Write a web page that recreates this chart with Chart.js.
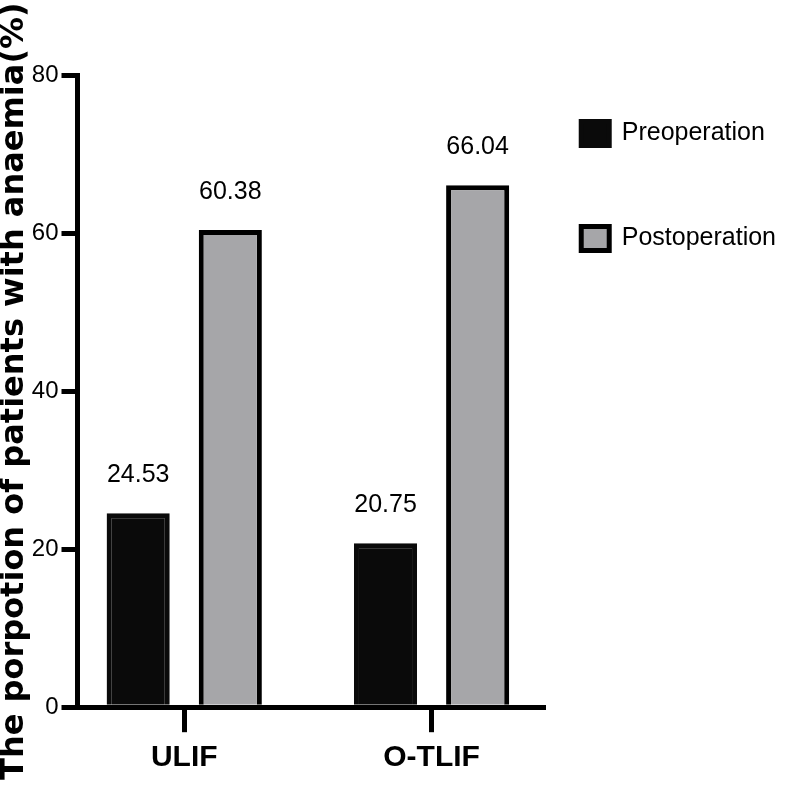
<!DOCTYPE html>
<html>
<head>
<meta charset="utf-8">
<script src="https://cdn.jsdelivr.net/npm/chart.js@4/dist/chart.umd.min.js"></script>
<style>
  html, body { margin: 0; padding: 0; background: #fff; }
  #wrap { width: 786px; height: 786px; }
</style>
</head>
<body>
<div id="wrap"><canvas id="c" width="786" height="786"></canvas></div>
<script>
const categories = ['ULIF', 'O-TLIF'];
const preoperation = [24.53, 20.75];
const postoperation = [60.38, 66.04];
const seriesNames = ['Preoperation', 'Postoperation'];
const yTicks = [0, 20, 40, 60, 80];
const yTitle = 'The porpotion of patients with anaemia(%)';

const SANS = "'Liberation Sans', Arial, sans-serif";

const valueLabels = {
  id: 'valueLabels',
  afterDatasetsDraw(chart) {
    const ctx = chart.ctx;
    ctx.save();
    ctx.font = '25px ' + SANS;
    ctx.fillStyle = '#000';
    ctx.textAlign = 'center';
    ctx.textBaseline = 'middle';
    chart.data.datasets.forEach((ds, di) => {
      const meta = chart.getDatasetMeta(di);
      meta.data.forEach((el, i) => {
        ctx.fillText(ds.data[i].y.toFixed(2), el.x, el.y - 38);
      });
    });
    ctx.restore();
  }
};

const toPoints = arr => arr.map((v, i) => ({ x: i, y: v }));

new Chart(document.getElementById('c'), {
  type: 'bar',
  data: {
    datasets: [
      {
        label: seriesNames[0],
        data: toPoints(preoperation),
        backgroundColor: '#0a0a0a',
        borderColor: '#0a0a0a',
        borderWidth: 5,
        categoryPercentage: 0.745,
        barPercentage: 0.685
      },
      {
        label: seriesNames[1],
        data: toPoints(postoperation),
        backgroundColor: '#a6a6a9',
        borderColor: '#000',
        borderWidth: 5,
        categoryPercentage: 0.745,
        barPercentage: 0.685
      }
    ]
  },
  options: {
    responsive: false,
    animation: false,
    devicePixelRatio: 1,
    layout: { padding: { top: 75, right: 0, bottom: 2.6, left: 0 } },
    plugins: {
      tooltip: { enabled: false },
      legend: {
        position: 'right',
        align: 'start',
        maxWidth: 300,
        title: { display: true, text: '', font: { size: 8, lineHeight: 1 }, padding: 0 },
        labels: {
          boxWidth: 28,
          boxHeight: 24,
          padding: 38,
          color: '#000',
          font: { family: SANS, size: 25, lineHeight: 2.68 },
          generateLabels(chart) {
            return Chart.defaults.plugins.legend.labels.generateLabels(chart)
              .map(l => Object.assign({}, l, { text: [l.text] }));
          }
        }
      }
    },
    scales: {
      x: {
        type: 'linear',
        min: -0.4316,
        max: 1.4514,
        offset: false,
        afterBuildTicks(scale) {
          scale.ticks = categories.map((_, i) => ({ value: i }));
        },
        ticks: {
          color: '#000',
          padding: 7.6,
          maxRotation: 0,
          autoSkip: false,
          font: { family: SANS, size: 30, weight: 'bold', lineHeight: 1.2 },
          callback: v => categories[v] !== undefined ? categories[v] : ''
        },
        grid: {
          display: true,
          offset: false,
          drawOnChartArea: false,
          drawTicks: true,
          tickLength: 25,
          tickWidth: 5,
          tickColor: '#000',
          lineWidth: 5,
          color: '#000'
        },
        border: { display: true, color: '#000', width: 5 }
      },
      y: {
        min: yTicks[0],
        max: yTicks[yTicks.length - 1],
        afterBuildTicks(scale) {
          scale.ticks = yTicks.map(v => ({ value: v }));
        },
        ticks: {
          color: '#000',
          padding: 3,
          font: { family: SANS, size: 24, lineHeight: 1.2 }
        },
        grid: {
          display: true,
          offset: false,
          drawOnChartArea: false,
          drawTicks: true,
          tickLength: 16,
          tickWidth: 5,
          tickColor: '#000',
          lineWidth: 5,
          color: '#000'
        },
        border: { display: true, color: '#000', width: 5 },
        title: {
          display: true,
          text: yTitle,
          color: '#000',
          padding: 0,
          font: { family: "'DejaVu Sans', sans-serif", weight: 'bold', size: 32, lineHeight: 0.9 }
        }
      }
    }
  },
  plugins: [valueLabels]
});
</script>
</body>
</html>
